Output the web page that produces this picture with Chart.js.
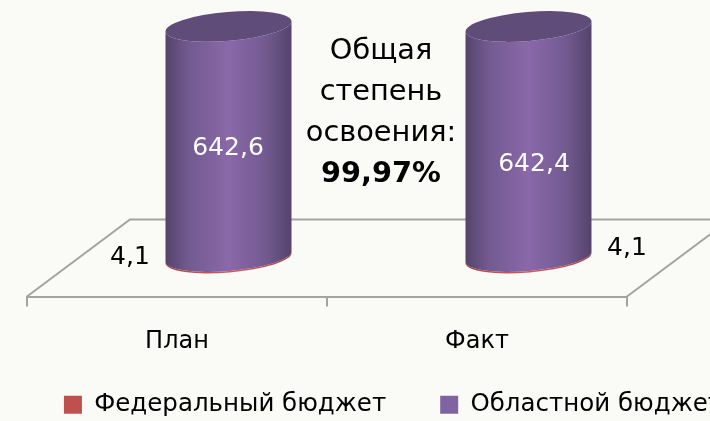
<!DOCTYPE html>
<html lang="ru">
<head>
<meta charset="utf-8">
<title>Степень освоения</title>
<script src="https://cdn.jsdelivr.net/npm/chart.js@4"></script>
<style>
  html, body { margin: 0; padding: 0; width: 710px; height: 421px; overflow: hidden; background: #fafbf7; }
  #wrap { position: relative; width: 710px; height: 421px; overflow: hidden; }
  canvas { position: absolute; left: 0; top: 0; }
  #note { position: absolute; left: 281px; top: 29px; width: 200px; text-align: center; color: #000;
          font: 28.8px/41px "DejaVu Sans", sans-serif; }
</style>
</head>
<body>
<div id="wrap">
  <canvas id="chart" width="786" height="452"></canvas>
  <div id="note">Общая<br>степень<br>освоения:<br><b>99,97%</b></div>
</div>
<script>
const categories = ["План", "Факт"];
const federal = [4.1, 4.1];
const regional = [642.6, 642.4];
const federalLabels = ["4,1", "4,1"];
const regionalLabels = ["642,6", "642,4"];

const FONT = '"DejaVu Sans", sans-serif';
const DEPTH_X = 103;
const DEPTH_Y = 77;
const TILT = -0.085;

/* Легенду поднимаем ближе к оси, padding у неё слишком большой по вертикали */
const legendShiftPlugin = {
  id: "legendShift",
  afterLayout(chart) {
    chart.legend.top -= 25;
    chart.legend.bottom -= 25;
  },
};

/* Пол псевдо-3D диаграммы */
const floorPlugin = {
  id: "floor",
  beforeDatasetsDraw(chart) {
    const { ctx, chartArea: a } = chart;
    ctx.save();
    ctx.strokeStyle = "#a3a3a3";
    ctx.lineWidth = 2;
    ctx.beginPath();
    ctx.moveTo(a.left, a.bottom);
    ctx.lineTo(a.left + DEPTH_X, a.bottom - DEPTH_Y);
    ctx.lineTo(a.right + DEPTH_X, a.bottom - DEPTH_Y);
    ctx.lineTo(a.right, a.bottom);
    ctx.stroke();
    ctx.restore();
  },
};

const drawCylinder = (ctx, el, shades, cap) => {
  const cx = el.x + DEPTH_X / 2;
  const top = el.y - DEPTH_Y / 2;
  const bottom = el.base - DEPTH_Y / 2;
  const rx = el.width / 2 / Math.cos(TILT);
  const ry = 14.5;
  const g = ctx.createLinearGradient(cx - el.width / 2, 0, cx + el.width / 2, 0);
  g.addColorStop(0, shades[0]);
  g.addColorStop(0.18, shades[1]);
  g.addColorStop(0.5, shades[2]);
  g.addColorStop(0.8, shades[1]);
  g.addColorStop(1, shades[0]);
  ctx.fillStyle = g;
  ctx.beginPath();
  ctx.ellipse(cx, bottom, rx, ry, TILT, 0, Math.PI);
  ctx.ellipse(cx, top, rx, ry, TILT, Math.PI, 0, true);
  ctx.closePath();
  ctx.fill();
  if (cap) {
    ctx.fillStyle = cap;
    ctx.beginPath();
    ctx.ellipse(cx, top, rx, ry, TILT, 0, Math.PI * 2);
    ctx.fill();
  }
};

/* Цилиндры вместо обычных столбцов */
const cylinderPlugin = {
  id: "cylinder",
  beforeDatasetsDraw(chart) {
    const { ctx } = chart;
    ctx.save();
    chart.getDatasetMeta(0).data.forEach((el) => {
      drawCylinder(ctx, el, ["#a83a3a", "#c0504d", "#d05a56"], null);
    });
    chart.getDatasetMeta(1).data.forEach((el) => {
      drawCylinder(ctx, el, ["#54436b", "#725a90", "#8a68a9"], "#604c79");
    });
    ctx.font = "25px " + FONT;
    ctx.textAlign = "center";
    ctx.textBaseline = "middle";
    const regionalEls = chart.getDatasetMeta(1).data;
    ctx.fillStyle = "#ffffff";
    ctx.fillText(regionalLabels[0], regionalEls[0].x + 51, 148);
    ctx.fillText(regionalLabels[1], regionalEls[1].x + 57, 164);
    ctx.fillStyle = "#000000";
    const federalEls = chart.getDatasetMeta(0).data;
    ctx.fillText(federalLabels[0], federalEls[0].x - 47, 257);
    ctx.fillText(federalLabels[1], federalEls[1].x + 150, 248);
    ctx.restore();
    return false;
  },
};

const fixedWidth = (w) => (scale) => { scale.width = w; };
const hiddenAxis = (position, w) => ({
  position,
  stacked: true,
  min: 0,
  max: 800,
  border: { display: false },
  grid: { display: false },
  ticks: { display: false },
  afterFit: fixedWidth(w),
});

const chart = new Chart(document.getElementById("chart"), {
  type: "bar",
  data: {
    labels: categories,
    datasets: [
      { label: "Федеральный бюджет", data: federal, backgroundColor: "#c0504d" },
      { label: "Областной бюджет", data: regional, backgroundColor: "#8064a2" },
    ],
  },
  options: {
    responsive: false,
    animation: false,
    barPercentage: 0.42,
    categoryPercentage: 1,
    layout: { padding: { top: 10 } },
    scales: {
      x: {
        stacked: true,
        border: { color: "#a3a3a3", width: 2 },
        grid: { drawOnChartArea: false, color: "#a3a3a3", lineWidth: 2, tickLength: 10 },
        ticks: { color: "#000", font: { family: FONT, size: 24 }, padding: 21, maxRotation: 0 },
        afterFit: (scale) => { scale.height = 67; },
      },
      y: hiddenAxis("left", 27),
      yRight: hiddenAxis("right", 159),
    },
    plugins: {
      title: { display: false },
      tooltip: { enabled: false },
      legend: {
        position: "bottom",
        labels: {
          color: "#000",
          boxWidth: 18,
          boxHeight: 18,
          padding: 54,
          font: { family: FONT, size: 24.5 },
        },
      },
    },
  },
  plugins: [legendShiftPlugin, floorPlugin, cylinderPlugin],
});
</script>
</body>
</html>
